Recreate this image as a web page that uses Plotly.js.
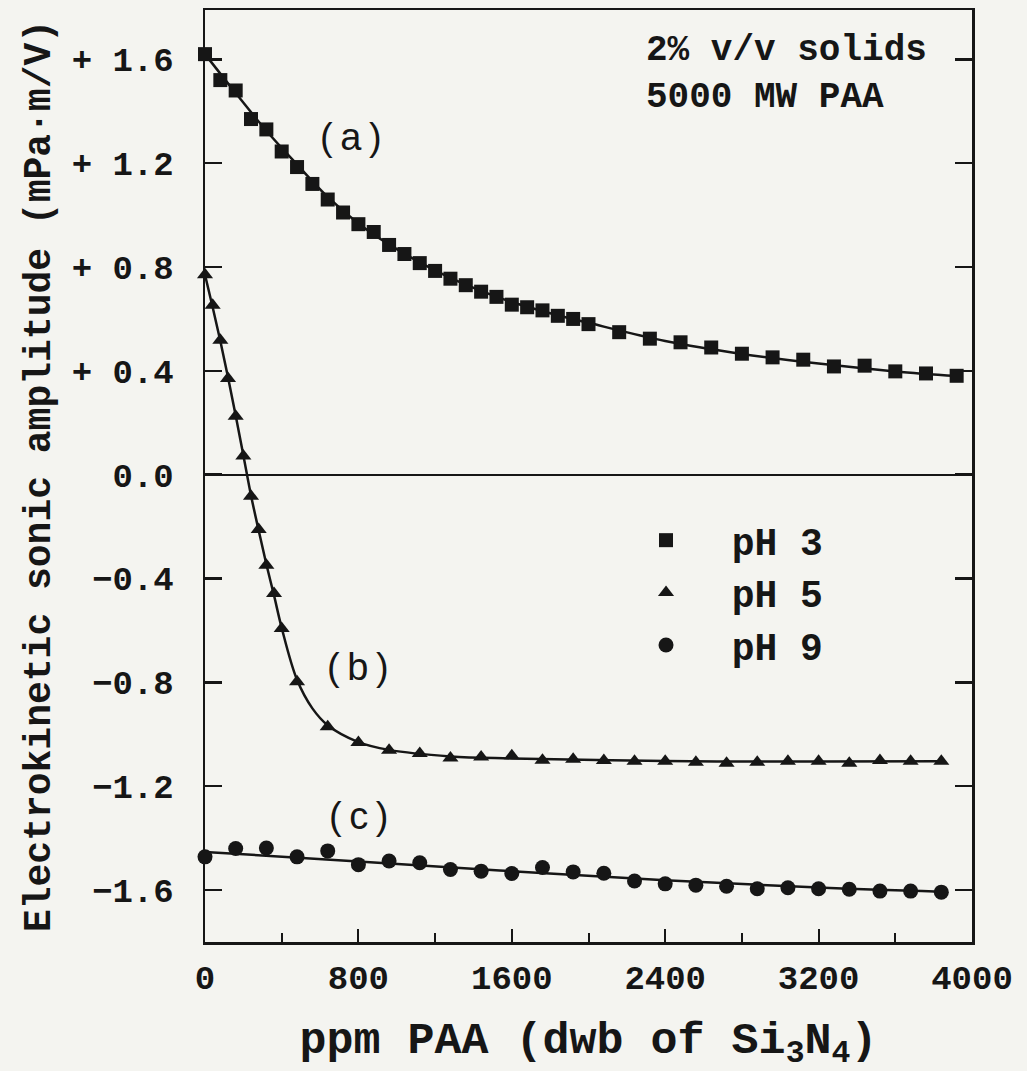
<!DOCTYPE html>
<html>
<head>
<meta charset="utf-8">
<script src="https://cdn.plot.ly/plotly-3.0.1.min.js"></script>
<style>html,body{margin:0;padding:0;background:#f4f4f0;}</style>
</head>
<body>
<div id="chart" style="width:1027px;height:1071px;"></div>
<script>
// pH 3 (a) data points
const ppmA = [0,80,160,240,320,400,480,560,640,720,800,880,960,1040,1120,1200,1280,1360,1440,1520,1600,1680,1760,1840,1920,2000,2160,2320,2480,2640,2800,2960,3120,3280,3440,3600,3760,3920];
const ampA = [1.62,1.52,1.48,1.37,1.33,1.245,1.185,1.12,1.06,1.01,0.965,0.935,0.885,0.85,0.815,0.785,0.755,0.73,0.705,0.685,0.655,0.645,0.633,0.612,0.60,0.58,0.549,0.524,0.510,0.490,0.466,0.452,0.443,0.417,0.420,0.398,0.390,0.381];
// pH 5 (b) data points
const ppmB = [0,40,80,120,160,200,240,280,320,360,400,480,640,800,960,1120,1280,1440,1600,1760,1920,2080,2240,2400,2560,2720,2880,3040,3200,3360,3520,3680,3840];
const ampB = [0.77,0.653,0.518,0.371,0.225,0.072,-0.083,-0.211,-0.349,-0.458,-0.592,-0.798,-0.971,-1.032,-1.061,-1.074,-1.091,-1.087,-1.083,-1.100,-1.096,-1.101,-1.104,-1.104,-1.108,-1.111,-1.108,-1.104,-1.104,-1.111,-1.101,-1.104,-1.104];
// pH 9 (c) data points
const ppmC = [0,160,320,480,640,800,960,1120,1280,1440,1600,1760,1920,2080,2240,2400,2560,2720,2880,3040,3200,3360,3520,3680,3840];
const ampC = [-1.472,-1.440,-1.438,-1.472,-1.449,-1.502,-1.488,-1.495,-1.521,-1.527,-1.536,-1.513,-1.530,-1.535,-1.565,-1.576,-1.581,-1.585,-1.595,-1.591,-1.595,-1.597,-1.604,-1.604,-1.608];

// smooth fitted curves
const fitAx = [0,160,320,480,640,800,960,1120,1280,1440,1600,1800,2000,2400,2800,3200,3600,3920];
const fitAy = [1.62,1.47,1.325,1.195,1.07,0.968,0.887,0.818,0.758,0.708,0.665,0.622,0.585,0.515,0.465,0.428,0.398,0.38];
const fitBx = [0,40,80,120,160,200,240,280,320,360,400,480,560,640,800,960,1280,1600,2400,3200,3840];
const fitBy = [0.77,0.645,0.515,0.375,0.228,0.075,-0.08,-0.215,-0.345,-0.465,-0.59,-0.79,-0.90,-0.965,-1.03,-1.06,-1.085,-1.093,-1.103,-1.105,-1.104];
const fitCx = [0,800,1600,2400,3200,3840];
const fitCy = [-1.453,-1.49,-1.527,-1.562,-1.59,-1.606];

const seriesNames = ['pH 3','pH 5','pH 9'];
const curveLabels = ['(\u2009a\u2009)','(\u2009b\u2009)','(\u2009c\u2009)'];
const labelX = [760,797,805];
const labelY = [1.302,-0.742,-1.315];

const yTickVals = [1.6,1.2,0.8,0.4,0,-0.4,-0.8,-1.2,-1.6];
const yTickText = ['+ 1.6','+ 1.2','+ 0.8','+ 0.4','0.0','\u22120.4','\u22120.8','\u22121.2','\u22121.6'];
const xTickVals = [0,800,1600,2400,3200,4000];

const ink = '#161616';
const mono = 'Liberation Mono, Courier New, monospace';
const NB = '\u00A0\u00A0';

const lineStyle = {color: ink, width: 2.5, shape: 'spline', smoothing: 1};

const traces = [
  {x: fitAx, y: fitAy, mode: 'lines', line: lineStyle, showlegend: false, hoverinfo: 'skip'},
  {x: fitBx, y: fitBy, mode: 'lines', line: lineStyle, showlegend: false, hoverinfo: 'skip'},
  {x: fitCx, y: fitCy, mode: 'lines', line: lineStyle, showlegend: false, hoverinfo: 'skip'},
  {x: ppmA, y: ampA, mode: 'markers', name: NB + seriesNames[0], cliponaxis: false,
   marker: {symbol: 'square', size: 14, color: ink}},
  {x: ppmB, y: ampB, mode: 'markers', name: NB + seriesNames[1], cliponaxis: false,
   marker: {symbol: 'triangle-up', size: 14, color: ink}},
  {x: ppmC, y: ampC, mode: 'markers', name: NB + seriesNames[2], cliponaxis: false,
   marker: {symbol: 'circle', size: 15, color: ink}}
];

const annotations = curveLabels.map((t, i) => ({
  x: labelX[i], y: labelY[i], xref: 'x', yref: 'y', text: t, showarrow: false,
  font: {family: 'Liberation Sans, Arial, sans-serif', size: 38, color: ink, weight: 400}
}));
annotations.push({
  x: 2290, y: 1.545, xref: 'x', yref: 'y', xanchor: 'left', yanchor: 'middle', align: 'left',
  text: '2% v/v solids<br>5000 MW PAA', showarrow: false,
  font: {family: mono, size: 36, color: ink, weight: 700}
});

const layout = {
  width: 1027, height: 1071,
  margin: {l: 205, r: 55, t: 10, b: 129},
  paper_bgcolor: '#f4f4f0', plot_bgcolor: '#f4f4f0',
  font: {family: mono, color: ink, weight: 700},
  showlegend: true,
  legend: {x: 0.575, xanchor: 'left', y: 0.3745, yanchor: 'middle', bgcolor: 'rgba(0,0,0,0)',
           font: {family: mono, size: 38, color: ink, weight: 700}, itemwidth: 30},
  xaxis: {
    range: [0, 4000], showgrid: false, zeroline: false,
    showline: true, linecolor: ink, linewidth: 2.5, mirror: true,
    tickmode: 'array', tickvals: xTickVals, ticks: 'inside', ticklen: 13, tickwidth: 2, tickcolor: ink,
    minor: {dtick: 400, ticks: 'inside', ticklen: 9, tickwidth: 2, tickcolor: ink, showgrid: false},
    tickfont: {family: mono, size: 34, color: ink, weight: 700},
    ticklabelstandoff: 4,
    title: {text: 'ppm PAA (dwb of Si<sub>3</sub>N<sub>4</sub>)', standoff: 28,
            font: {family: mono, size: 45, color: ink, weight: 700}}
  },
  yaxis: {
    range: [-1.80, 1.79], showgrid: false,
    zeroline: true, zerolinecolor: ink, zerolinewidth: 2,
    showline: true, linecolor: ink, linewidth: 2.5, mirror: 'ticks',
    tickmode: 'array', tickvals: yTickVals, ticktext: yTickText,
    ticks: 'inside', ticklen: 17, tickwidth: 2.5, tickcolor: ink,
    tickfont: {family: mono, size: 34, color: ink, weight: 700},
    ticklabelstandoff: 22,
    title: {text: 'Electrokinetic sonic amplitude (mPa\u00B7m/V)', standoff: 10,
            font: {family: mono, size: 38, color: ink, weight: 700}}
  },
  annotations: annotations
};

Plotly.newPlot('chart', traces, layout, {displayModeBar: false, staticPlot: true});
</script>
</body>
</html>
